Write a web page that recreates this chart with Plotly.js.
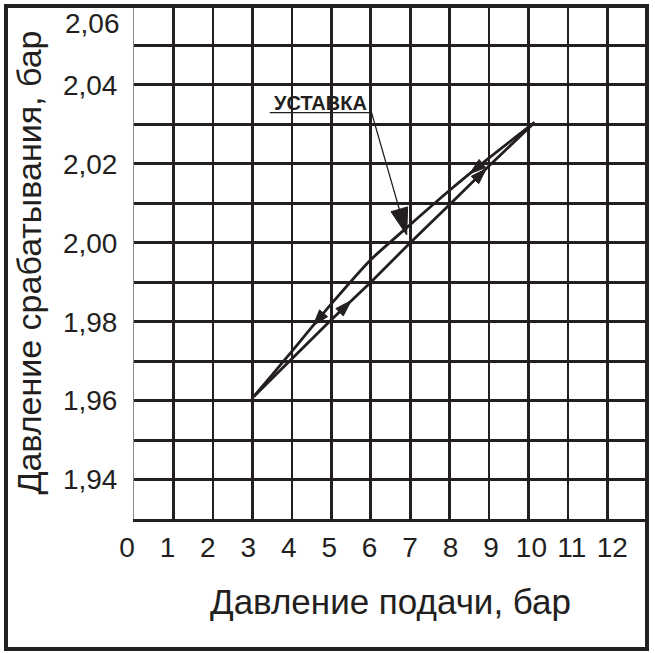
<!DOCTYPE html>
<html><head><meta charset="utf-8">
<script src="https://cdn.plot.ly/plotly-3.0.1.min.js"></script>
<style>html,body{margin:0;padding:0;background:#fff}#chart{width:655px;height:653px}</style>
</head><body><div id="chart"></div>
<script>
// ---- data ----
const xTickVals = [0,1,2,3,4,5,6,7,8,9,10,11,12];
const yTickVals = [1.94,1.96,1.98,2.00,2.02,2.04,2.06];

// rising branch (increasing supply pressure)
const riseX = [3.03, 4.0, 5.0, 6.0, 7.0, 8.0, 9.0, 10.15];
const riseY = [1.961, 1.9705, 1.9805, 1.9900, 2.0000, 2.0097, 2.0195, 2.0305];
// falling branch (decreasing supply pressure)
const fallX = [10.15, 9.0, 8.0, 7.0, 6.0, 5.0, 4.0, 3.5, 3.03];
const fallY = [2.0305, 2.0215, 2.0133, 2.0046, 1.9957, 1.9845, 1.9725, 1.9665, 1.961];

// direction arrows: tail point -> tip point
const arrowFromX = [4.75, 8.72, 5.30, 8.73];
const arrowFromY = [1.9815, 2.0192, 1.9833, 2.0168];
const arrowTipX  = [4.54, 8.51, 5.50, 8.93];
const arrowTipY  = [1.9790, 2.0175, 1.9853, 2.0188];

// setpoint callout
const calloutText = 'УСТАВКА';
const calloutTextX = 4.72, calloutTextY = 2.0354;
const calloutLineX = [3.44, 6.02, 6.91];
const calloutLineY = [2.033, 2.033, 2.002];

// ---- build ----
const ink = '#231f20';
const fmt = v => v.toFixed(2).replace('.', ',');
const arrX = [], arrY = [], arrS = [];
for (let i = 0; i < arrowTipX.length; i++) {
  arrX.push(arrowFromX[i], arrowTipX[i]);
  arrY.push(arrowFromY[i], arrowTipY[i]);
  arrS.push(0, 17);
}

const traces = [
  {x: riseX, y: riseY, mode: 'lines', line: {color: ink, width: 2.8}, hoverinfo: 'skip'},
  {x: fallX, y: fallY, mode: 'lines', line: {color: ink, width: 2.8, shape: 'spline', smoothing: 0.6}, hoverinfo: 'skip'},
  {x: arrX, y: arrY, mode: 'markers', opacity: 1,
   marker: {symbol: 'arrow', size: arrS, color: ink, opacity: 1, angleref: 'previous', line: {width: 1, color: ink}}, hoverinfo: 'skip'},
  {x: calloutLineX, y: calloutLineY, mode: 'lines+markers', opacity: 1, line: {color: ink, width: 1.3},
   marker: {symbol: 'arrow', size: [0, 0, 28], color: ink, opacity: 1, angleref: 'previous', line: {width: 1, color: ink}}, hoverinfo: 'skip'},
  // carrier for the tick-label axis (no visible marks)
  {x: [xTickVals[0]], y: [0], xaxis: 'x2', yaxis: 'y2', mode: 'markers', marker: {opacity: 0}, hoverinfo: 'skip'}
];

const L = 100; // left margin (px)
const layout = {
  width: 655, height: 653,
  margin: {l: L, r: 8, t: 6, b: 134, pad: 0},
  paper_bgcolor: '#fff', plot_bgcolor: 'rgba(0,0,0,0)',
  showlegend: false,
  font: {family: '"Liberation Sans", Arial, sans-serif', color: ink},
  xaxis: {
    domain: [(134 - L) / (647 - L), 1],
    range: [0, 13], tickmode: 'array', tickvals: xTickVals, showticklabels: false,
    showgrid: true, gridcolor: ink, gridwidth: 2.6,
    zeroline: false, showline: true, linecolor: ink, linewidth: 3, ticks: '',
    title: {text: 'Давление подачи, бар', font: {size: 35, color: ink}, standoff: 69},
    fixedrange: true
  },
  xaxis2: {
    domain: [0, 1], anchor: 'y2',
    range: [(L - 127) / 40.44, (647 - 127) / 40.44],
    tickmode: 'array', tickvals: xTickVals,
    showgrid: false, zeroline: false, showline: false, ticks: '',
    tickfont: {size: 28, color: ink}, ticklabelstandoff: 9, fixedrange: true
  },
  yaxis2: {domain: [0, 1], anchor: 'x2', range: [0, 1], visible: false, fixedrange: true},
  yaxis: {
    range: [1.93, 2.06], tickmode: 'array', tickvals: yTickVals.slice(0, -1),
    ticktext: yTickVals.slice(0, -1).map(fmt),
    showgrid: true, gridcolor: ink, gridwidth: 3,
    minor: {tick0: 1.93, dtick: 0.01, showgrid: true, gridcolor: ink, gridwidth: 3, ticks: ''},
    zeroline: false, showline: true, linecolor: '#8a8a8a', linewidth: 1,
    ticks: '', tickfont: {size: 28, color: ink}, ticklabelstandoff: 10,
    title: {text: 'Давление срабатывания, бар', font: {size: 34, color: ink}, standoff: 11},
    fixedrange: true
  },
  annotations: [
    {x: calloutTextX, y: calloutTextY, xref: 'x', yref: 'y', text: '<b>' + calloutText + '</b>',
     showarrow: false, font: {size: 20, color: ink}, xanchor: 'center', yanchor: 'middle'},
    // top tick label, drawn just below its grid line as in the original
    {x: 0, y: yTickVals[yTickVals.length - 1], xref: 'x', yref: 'y', text: fmt(yTickVals[yTickVals.length - 1]),
     showarrow: false, font: {size: 28, color: ink}, xanchor: 'right', yanchor: 'top', xshift: -12}
  ],
  shapes: [
    {type: 'rect', xref: 'paper', yref: 'paper', x0: (6 - L) / (647 - L), x1: 1, y0: -(649 - 519) / 513, y1: 1,
     line: {color: ink, width: 4}, fillcolor: 'rgba(0,0,0,0)', layer: 'above'}
  ]
};

Plotly.newPlot('chart', traces, layout, {staticPlot: true, displayModeBar: false});
</script>
</body></html>
